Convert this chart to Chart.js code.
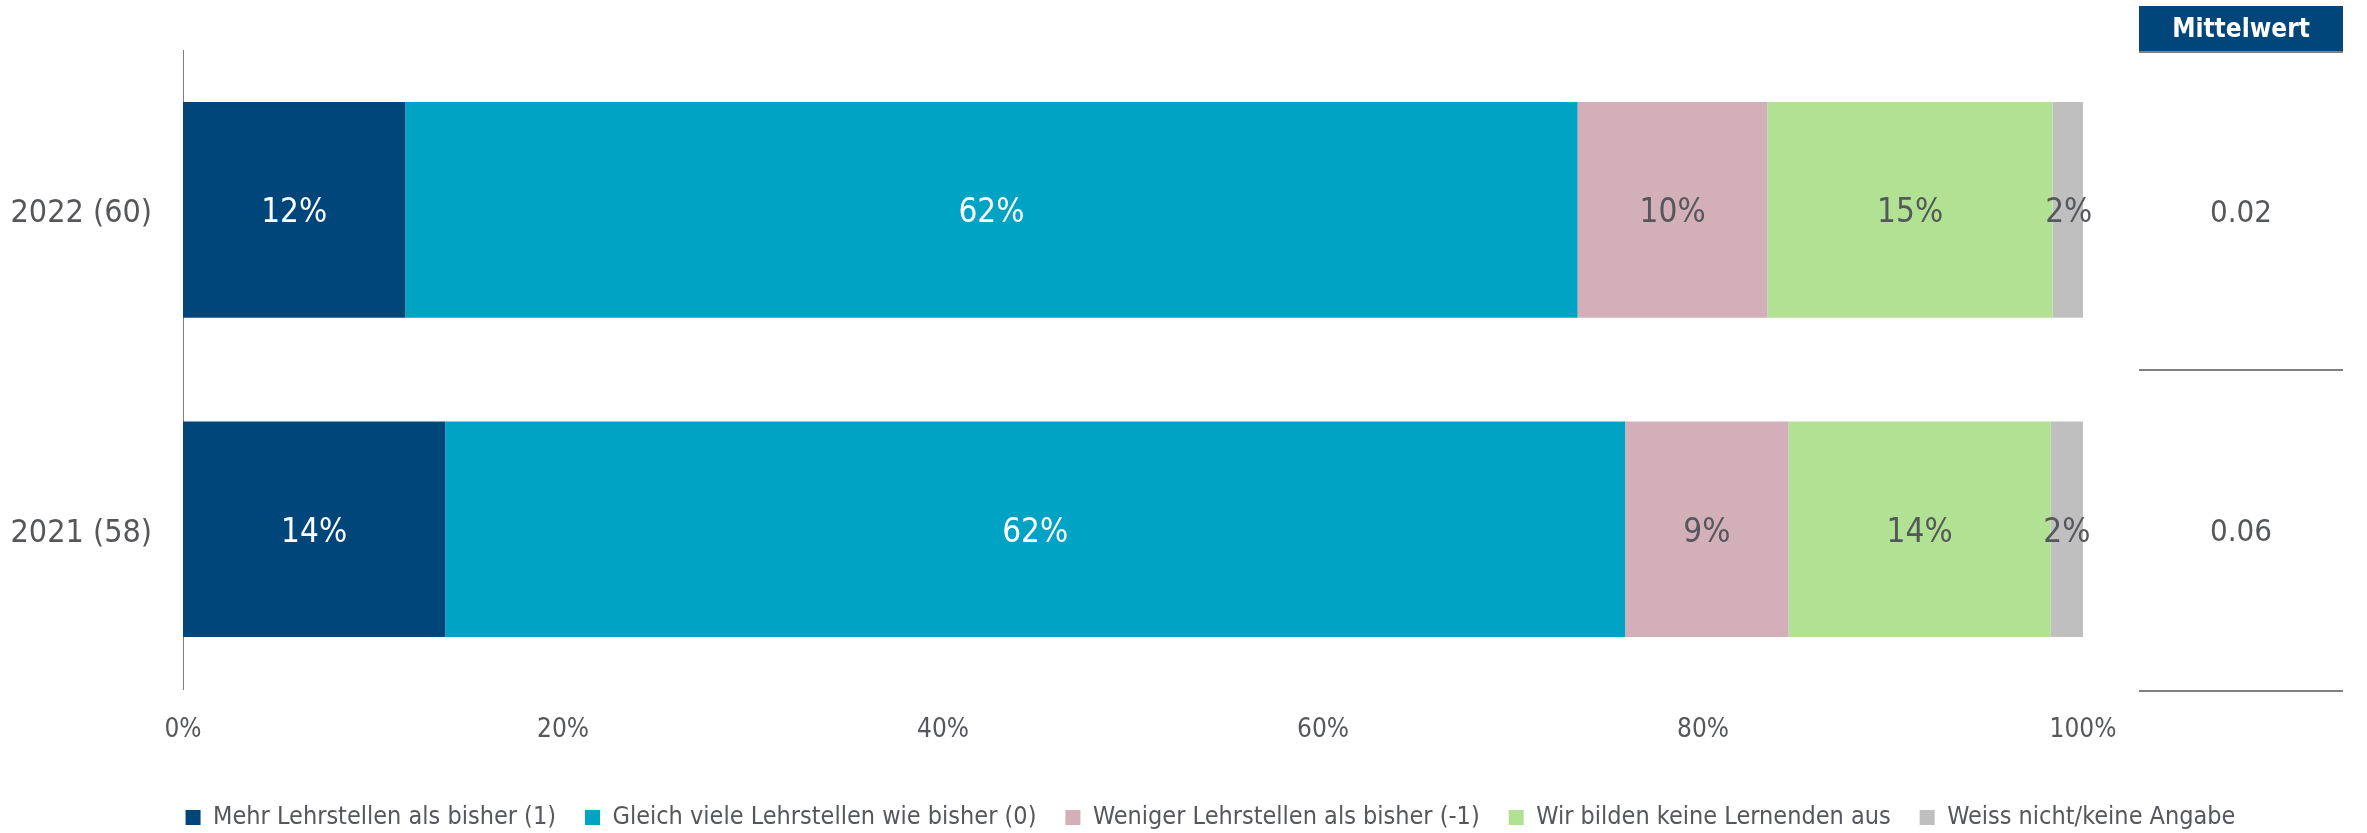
<!DOCTYPE html>
<html>
<head>
<meta charset="utf-8">
<script src="https://cdn.jsdelivr.net/npm/chart.js@4"></script>
<style>
    html, body { margin: 0; padding: 0; background: #fff; }
    #wrap { width: 2367px; height: 833px; }
</style>
</head>
<body>
<div id="wrap"><canvas id="chart" width="2367" height="833"></canvas></div>
<script>
const FONT = "'DejaVu Sans Condensed', 'Liberation Sans Narrow', 'DejaVu Sans', sans-serif";
const TEXT = '#55575b';

const years = ['2022 (60)', '2021 (58)'];
const seriesNames = [
    'Mehr Lehrstellen als bisher (1)',
    'Gleich viele Lehrstellen wie bisher (0)',
    'Weniger Lehrstellen als bisher (-1)',
    'Wir bilden keine Lernenden aus',
    'Weiss nicht/keine Angabe'
];
const mehr = [11.7, 13.8];
const gleich = [61.7, 62.1];
const weniger = [10.0, 8.6];
const keine = [15.0, 13.8];
const weissNicht = [1.7, 1.7];
const mittelwert = ['0.02', '0.06'];
const xTicks = [0, 20, 40, 60, 80, 100];

const colors = ['#00467a', '#00a3c4', '#d3b0b9', '#b1e193', '#bfbfbf'];
const labelColors = ['#ffffff', '#ffffff', TEXT, TEXT, TEXT];

const seriesValues = [mehr, gleich, weniger, keine, weissNicht];

// value labels inside the bars
const barLabels = {
    id: 'barLabels',
    afterDatasetsDraw(chart) {
        const ctx = chart.ctx;
        ctx.save();
        ctx.font = `33px ${FONT}`;
        ctx.textAlign = 'center';
        ctx.textBaseline = 'middle';
        chart.data.datasets.forEach((ds, i) => {
            chart.getDatasetMeta(i).data.forEach((bar, j) => {
                const cx = (bar.x + bar.base) / 2;
                ctx.fillStyle = labelColors[i];
                ctx.fillText(Math.round(ds.data[j]) + '%', cx, bar.y + 4);
            });
        });
        ctx.restore();
    }
};

// Mittelwert column on the right
const meanColumn = {
    id: 'meanColumn',
    afterDraw(chart) {
        const ctx = chart.ctx;
        const y = chart.scales.y;
        const left = 2139, right = 2343, mid = (left + right) / 2;
        ctx.save();
        ctx.fillStyle = '#00467a';
        ctx.fillRect(left, 6, right - left, 46);
        ctx.fillStyle = '#7f7f7f';
        ctx.fillRect(left, 51, right - left, 2);
        ctx.fillStyle = '#ffffff';
        ctx.font = `bold 26px ${FONT}`;
        ctx.textAlign = 'center';
        ctx.textBaseline = 'middle';
        ctx.fillText('Mittelwert', mid, 30);

        ctx.font = `31px ${FONT}`;
        ctx.fillStyle = TEXT;
        mittelwert.forEach((m, i) => {
            ctx.fillText(m, mid, y.getPixelForValue(i) + 4);
        });
        ctx.strokeStyle = '#808080';
        ctx.lineWidth = 2;
        [370, 691].forEach(ly => {
            ctx.beginPath();
            ctx.moveTo(left, ly);
            ctx.lineTo(right, ly);
            ctx.stroke();
        });
        ctx.restore();
    }
};

new Chart(document.getElementById('chart'), {
    type: 'bar',
    data: {
        labels: years,
        datasets: seriesNames.map((name, i) => ({
            label: name,
            data: seriesValues[i],
            backgroundColor: colors[i],
            borderWidth: 0,
            categoryPercentage: 1,
            barPercentage: 0.675
        }))
    },
    options: {
        indexAxis: 'y',
        responsive: false,
        animation: false,
        layout: { padding: { top: 50, left: 0, right: -54, bottom: -7 } },
        scales: {
            x: {
                stacked: true,
                min: 0,
                max: 100,
                afterBuildTicks: s => { s.ticks = xTicks.map(v => ({ value: v })); },
                afterFit: s => { s.height = 87; },
                grid: { display: false, drawTicks: false },
                border: { display: false },
                ticks: {
                    padding: 26,
                    color: TEXT,
                    font: { family: FONT, size: 26 },
                    callback: v => v + '%'
                }
            },
            y: {
                stacked: true,
                afterFit: s => { s.width = 183; },
                grid: { display: false, drawTicks: false },
                border: { display: true, color: '#7f7f7f', width: 1 },
                ticks: {
                    padding: 31,
                    labelOffset: 4,
                    color: TEXT,
                    font: { family: FONT, size: 32 }
                }
            },
            y2: {
                type: 'category',
                position: 'right',
                afterFit: s => { s.width = 338; },
                grid: { display: false, drawTicks: false },
                border: { display: false },
                ticks: { display: false }
            }
        },
        plugins: {
            legend: {
                position: 'bottom',
                labels: {
                    color: TEXT,
                    font: { family: FONT, size: 25 },
                    boxWidth: 15,
                    boxHeight: 15,
                    padding: 29
                }
            },
            tooltip: { enabled: false }
        }
    },
    plugins: [barLabels, meanColumn]
});
</script>
</body>
</html>
